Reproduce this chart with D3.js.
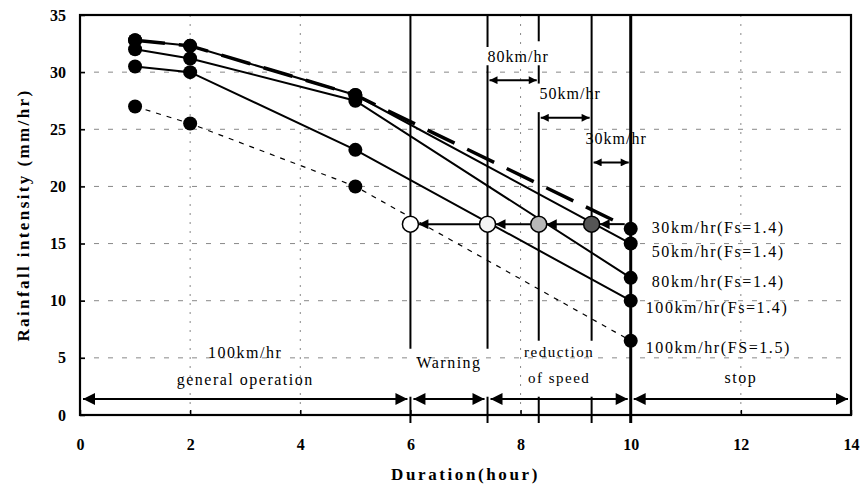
<!DOCTYPE html>
<html>
<head>
<meta charset="utf-8">
<script src="https://cdn.jsdelivr.net/npm/d3@7"></script>
<style>
  body { margin: 0; background: #fff; }
  svg { font-family: "Liberation Serif", "DejaVu Serif", serif; }
</style>
</head>
<body>
<svg id="chart" width="861" height="488"></svg>
<script>
// data
var hours = [1, 2, 5, 10];
var rain30 = [32.8, 32.3, 28.0, 16.3];
var rain50 = [32.8, 32.3, 28.0, 15.0];
var rain80 = [32.0, 31.2, 27.5, 12.0];
var rain100 = [30.5, 30.0, 23.2, 10.0];
var rain100fs15 = [27.0, 25.5, 20.0, 6.5];
var seriesNames = ["30km/hr(Fs=1.4)", "50km/hr(Fs=1.4)", "80km/hr(Fs=1.4)", "100km/hr(Fs=1.4)", "100km/hr(FS=1.5)"];

var stageTimes = [6, 7.4, 8.33, 9.29, 10];   // vertical lines
var warnRain = 16.7;                         // horizontal arrow level
var speedLabels = ["80km/hr", "50km/hr", "30km/hr"];
var xTicks = [0, 2, 4, 6, 8, 10, 12, 14];
var yTicks = [0, 5, 10, 15, 20, 25, 30, 35];

var svg = d3.select("#chart");
var pL = 80, pR = 851, pT = 15, pB = 415;

var x = d3.scaleLinear().domain([0, 14]).range([pL, pR]);
var y = d3.scaleLinear().domain([0, 35]).range([pB, pT]);

// grid
svg.append("g").selectAll("line")
  .data(yTicks.filter(d => d > 0 && d < 35))
  .enter().append("line")
  .attr("x1", pL).attr("x2", pR)
  .attr("y1", d => y(d)).attr("y2", d => y(d))
  .attr("stroke", "#888").attr("stroke-width", 1)
  .attr("stroke-dasharray", "5,9");

svg.append("g").selectAll("line")
  .data([2, 4, 8, 12])
  .enter().append("line")
  .attr("x1", d => x(d)).attr("x2", d => x(d))
  .attr("y1", pT).attr("y2", pB)
  .attr("stroke", "#888").attr("stroke-width", 1)
  .attr("stroke-dasharray", "2,7");

// axes
var xAxis = svg.append("g")
  .attr("transform", "translate(0," + pB + ")")
  .call(d3.axisBottom(x).tickValues(xTicks).tickSize(-5).tickPadding(24));
var yAxis = svg.append("g")
  .attr("transform", "translate(" + pL + ",0)")
  .call(d3.axisLeft(y).tickValues(yTicks).tickSize(-5).tickPadding(14));

[xAxis, yAxis].forEach(function(a) {
  a.select(".domain").remove();
  a.selectAll("line").attr("stroke", "#000").attr("stroke-width", 1.5);
  a.selectAll("text")
    .attr("font-family", "Liberation Serif")
    .attr("font-size", 16)
    .attr("font-weight", "bold")
    .attr("fill", "#000");
});

// frame
svg.append("rect")
  .attr("x", pL).attr("y", pT)
  .attr("width", pR - pL).attr("height", pB - pT)
  .attr("fill", "none").attr("stroke", "#000").attr("stroke-width", 2.2);

// vertical stage lines with gaps for the labels
var gaps = {
  6: [[1.6, 5.8]],
  7.4: [[1.6, 5.8], [30.6, 32.2]],
  8.33: [[1.6, 6.5], [30.6, 32.7], [26.5, 29.0]],
  9.29: [[1.6, 6.5]],
  10: []
};
stageTimes.forEach(function(t) {
  var g = (gaps[t] || []).slice().sort((a, b) => b[1] - a[1]);
  var segs = [];
  var hi = 35;
  g.forEach(function(p) { segs.push([p[1], hi]); hi = p[0]; });
  segs.push([-0.7, hi]);
  svg.append("g").selectAll("line")
    .data(segs)
    .enter().append("line")
    .attr("x1", x(t)).attr("x2", x(t))
    .attr("y1", d => y(d[0])).attr("y2", d => y(d[1]))
    .attr("stroke", "#000")
    .attr("stroke-width", t === 10 ? 3 : 2);
});

// arrow markers
var defs = svg.append("defs");
function marker(id, len, wid) {
  defs.append("marker")
    .attr("id", id)
    .attr("viewBox", "0 0 10 10")
    .attr("refX", 10).attr("refY", 5)
    .attr("markerUnits", "userSpaceOnUse")
    .attr("markerWidth", len).attr("markerHeight", wid)
    .attr("orient", "auto-start-reverse")
    .append("path").attr("d", "M0,0L10,5L0,10Z").attr("fill", "#000");
}
marker("bigHead", 14, 12);
marker("smallHead", 10, 8);
marker("midHead", 11, 10);

function arrow(x1, x2, yv, head, both) {
  var l = svg.append("line")
    .attr("x1", x1).attr("x2", x2)
    .attr("y1", y(yv)).attr("y2", y(yv))
    .attr("stroke", "#000").attr("stroke-width", 2)
    .attr("marker-end", "url(#" + head + ")");
  if (both) l.attr("marker-start", "url(#" + head + ")");
}

// series lines
var line = d3.line().x((d, i) => x(hours[i])).y(d => y(d));
var solid = [rain50, rain80, rain100];
svg.append("g").selectAll("path")
  .data(solid)
  .enter().append("path")
  .attr("d", line)
  .attr("fill", "none").attr("stroke", "#000").attr("stroke-width", 2);

svg.append("path")
  .attr("d", line(rain30))
  .attr("fill", "none").attr("stroke", "#000").attr("stroke-width", 3.5)
  .attr("stroke-dasharray", "30,14");

svg.append("path")
  .attr("d", line(rain100fs15))
  .attr("fill", "none").attr("stroke", "#000").attr("stroke-width", 1.2)
  .attr("stroke-dasharray", "5,6");

// points
var allSeries = [rain30, rain50, rain80, rain100, rain100fs15];
allSeries.forEach(function(s) {
  svg.append("g").selectAll("circle")
    .data(s)
    .enter().append("circle")
    .attr("cx", (d, i) => x(hours[i]))
    .attr("cy", d => y(d))
    .attr("r", 7)
    .attr("fill", "#000");
});

// warning threshold arrows and circles
for (var i = stageTimes.length - 1; i > 0; i--) {
  arrow(x(stageTimes[i]) - (i === stageTimes.length - 1 ? 6 : 8), x(stageTimes[i - 1]) + 8, warnRain, "midHead", false);
}
var circleFills = ["#fff", "#f4f4f4", "#b8b8b8", "#555"];
svg.append("g").selectAll("circle")
  .data(stageTimes.slice(0, 4))
  .enter().append("circle")
  .attr("cx", d => x(d)).attr("cy", y(warnRain))
  .attr("r", 8)
  .attr("fill", (d, i) => circleFills[i])
  .attr("stroke", "#000").attr("stroke-width", 1.5);

// speed spans at top
var speedY = [29.3, 26.0, 22.1];
speedLabels.forEach(function(lab, i) {
  var a = stageTimes[i + 1], b = stageTimes[i + 2];
  arrow(x(a) + 2, x(b) - 2, speedY[i], "smallHead", true);
  svg.append("text")
    .attr("x", (x(a) + x(b)) / 2 + 5)
    .attr("y", y(speedY[i]) - 24)
    .attr("dy", "0.35em")
    .attr("text-anchor", "middle")
    .attr("font-size", 16)
    .attr("letter-spacing", 1)
    .text(lab);
});

// bottom phases
var phaseEdges = [0, 6, 7.4, 10, 14];
for (var k = 0; k < phaseEdges.length - 1; k++) {
  arrow(x(phaseEdges[k]) + 3, x(phaseEdges[k + 1]) - 3, 1.4, "bigHead", true);
}
var phaseText = [
  { t: 3, v: [5.5, 3.1], s: ["100km/hr", "general operation"] },
  { t: 6.7, v: [4.6], s: ["Warning"] },
  { t: 8.7, v: [5.5, 3.3], s: ["reduction", "of speed"] },
  { t: 12, v: [3.3], s: ["stop"] }
];
phaseText.forEach(function(p) {
  p.s.forEach(function(str, j) {
    svg.append("text")
      .attr("x", x(p.t)).attr("y", y(p.v[j]))
      .attr("dy", "0.35em")
      .attr("text-anchor", "middle")
      .attr("font-size", str === "reduction" || str === "of speed" ? 15 : 16)
      .attr("letter-spacing", 1.5)
      .text(str);
  });
});

// series labels at the right
var labelRain = [16.4, 14.3, 11.7, 9.4, 5.9];
seriesNames.forEach(function(n, i) {
  svg.append("text")
    .attr("x", x(10) + (i < 3 ? 21 : 15))
    .attr("y", y(labelRain[i]))
    .attr("dy", "0.35em")
    .attr("font-size", 16)
    .attr("letter-spacing", 1.6)
    .text(n);
});

// axis titles
svg.append("text")
  .attr("x", (pL + pR) / 2).attr("y", 474)
  .attr("dy", "0.35em")
  .attr("text-anchor", "middle")
  .attr("font-size", 17).attr("font-weight", "bold")
  .attr("letter-spacing", 2.6)
  .text("Duration(hour)");

svg.append("text")
  .attr("transform", "translate(23,215) rotate(-90)")
  .attr("dy", "0.35em")
  .attr("text-anchor", "middle")
  .attr("font-size", 17).attr("font-weight", "bold")
  .attr("letter-spacing", 2.4)
  .text("Rainfall intensity (mm/hr)");
</script>
</body>
</html>
